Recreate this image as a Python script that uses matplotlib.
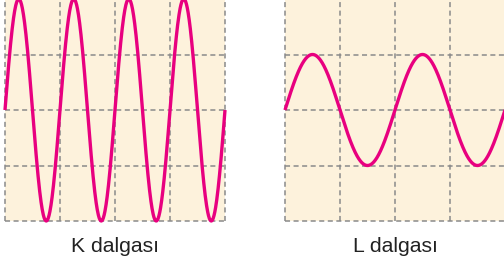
import numpy as np
import matplotlib
matplotlib.use("Agg")
import matplotlib.pyplot as plt

# Wave descriptions (in grid cells)
labels = ["K dalgası", "L dalgası"]
amplitudes = [2.0, 1.0]      # cells
periods = [1.0, 2.0]         # cells per cycle
n_cols = 4
n_rows = 4

W, H = 504, 261
fig = plt.figure(figsize=(W / 100, H / 100), dpi=100)
fig.patch.set_facecolor("white")

bg = "#fdf2dc"
wave_color = "#e8007f"
grid_color = "#8a8a8a"

panel_left_px = [5, 285]
panel_w_px = 220
top_px, bottom_px = -1, 221

for i, (lab, amp, per) in enumerate(zip(labels, amplitudes, periods)):
    l = panel_left_px[i] / W
    b = (H - bottom_px) / H
    ax = fig.add_axes([l, b, panel_w_px / W, (bottom_px - top_px) / H])
    ax.set_facecolor(bg)
    ax.set_xlim(0, n_cols)
    ax.set_ylim(-n_rows / 2, n_rows / 2)
    for s in ax.spines.values():
        s.set_visible(False)
    ax.set_xticks([])
    ax.set_yticks([])
    for xv in range(n_cols + 1):
        ax.axvline(xv, color=grid_color, lw=1.1, ls=(0, (3.3, 2.3)), clip_on=False, zorder=1)
    for yv in np.arange(-n_rows / 2, n_rows / 2 + 1):
        ax.axhline(yv, color=grid_color, lw=1.1, ls=(0, (3.3, 2.3)), clip_on=False, zorder=1)
    x = np.linspace(0, n_cols, 800)
    ax.plot(x, amp * np.sin(2 * np.pi * x / per), color=wave_color, lw=2.4,
            clip_on=False, zorder=3, solid_capstyle="butt")
    cx = (panel_left_px[i] + panel_w_px / 2) / W
    fig.text(cx, (H - 251.5) / H, lab, ha="center", va="baseline",
             fontsize=15.2, family="Liberation Sans", color="#222222")

fig.savefig("out.png", dpi=100, facecolor="white")
